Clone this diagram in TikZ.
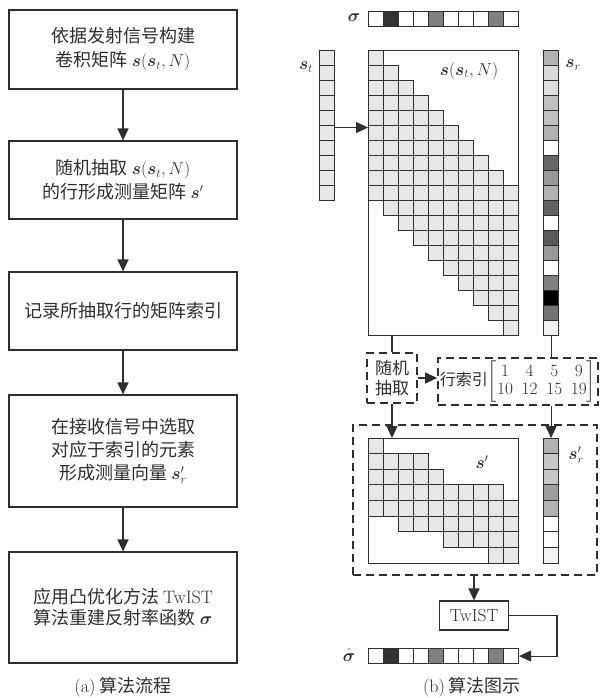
\documentclass[tikz,border=0pt]{standalone}
\usepackage{amsmath}
\usepackage{fontspec}
\newfontfamily\cjk{Noto Sans CJK SC}
\usetikzlibrary{arrows.meta}
\definecolor{ln}{gray}{0.18}
\tikzset{
  fbox/.style={draw=ln, line width=1.1pt, align=center, minimum width=228pt, inner sep=2pt, text=ln,
    font=\fontsize{18}{24}\selectfont\cjk},
  arr/.style={draw=ln, line width=1.1pt, -{Triangle[length=12pt,width=11pt]}},
  conn/.style={draw=ln, line width=1.1pt},
  dbox/.style={draw=ln, line width=1.8pt, dash pattern=on 8pt off 5pt, text=ln, inner sep=1pt},
  cell/.style={draw=ln, line width=0.8pt},
  frame/.style={draw=ln, line width=1.1pt, inner sep=0pt, anchor=north west},
  lab/.style={text=ln, font=\fontsize{18}{22}\selectfont, inner sep=0pt},
  captxt/.style={text=ln, font=\fontsize{18}{22}\selectfont\cjk, inner sep=0pt},
}
\colorlet{cf}{black!9}
\begin{document}
\begin{tikzpicture}[x=1pt,y=-1pt]
\useasboundingbox (0,0) rectangle (601,698);
% ---------------- (a) flowchart ----------------
\node[fbox, minimum height=79pt] (b1) at (123,49.5) {依据发射信号构建\\卷积矩阵 $\boldsymbol{s}(\boldsymbol{s}_t,N)$};
\node[fbox, minimum height=78pt] (b2) at (123,180) {随机抽取 $\boldsymbol{s}(\boldsymbol{s}_t,N)$\\的行形成测量矩阵 $\boldsymbol{s}'$};
\node[fbox, minimum height=78pt] (b3) at (123,311) {记录所抽取行的矩阵索引};
\node[fbox, minimum height=112pt, font=\fontsize{18}{23}\selectfont\cjk] (b4) at (123,451) {在接收信号中选取\\对应于索引的元素\\形成测量向量 $\boldsymbol{s}'_r$};
\node[fbox, minimum height=111pt, font=\fontsize{18}{21}\selectfont\cjk] (b5) at (123,607.5) {应用凸优化方法 {\rmfamily TwIST}\\算法重建反射率函数 $\boldsymbol{\sigma}$};
\draw[arr] (b1.south) -- (b2.north);
\draw[arr] (b2.south) -- (b3.north);
\draw[arr] (b3.south) -- (b4.north);
\draw[arr] (b4.south) -- (b5.north);
\node[captxt] (capa) at (123,687) {{\rmfamily (a)} 算法流程};
% ---------------- (b) illustration ----------------
% sigma bar
\node[lab] (sgl) at (354,18) {$\boldsymbol{\sigma}$};
\foreach \v [count=\k from 0] in {0,80,0,0,50,0,0,0,50,0}
  \draw[cell, fill=black!\v] ({368+15*\k},11) rectangle +(15,15);
\node[frame, minimum width=150pt, minimum height=15pt] (SG) at (368,11) {};
% s_t column
\node[lab] (stl) at (306,67) {$\boldsymbol{s}_t$};
\foreach \k in {0,...,9}
  \draw[cell, fill=cf] (319,{50+15*\k}) rectangle +(15,15);
\node[frame, minimum width=15pt, minimum height=150pt] (ST) at (319,50) {};
% main matrix
\foreach \j in {0,...,9}{
  \foreach \i in {0,...,9}{
    \pgfmathtruncatemacro\r{\i+\j}
    \draw[cell, fill=cf] ({368+15*\j},{50+15*\r}) rectangle +(15,15);
  }
}
\node[frame, minimum width=150pt, minimum height=285pt] (M) at (368,50) {};
\node[lab] (Ml) at (469,71) {$\boldsymbol{s}(\boldsymbol{s}_t,N)$};
\draw[arr] ([yshift=-2pt]ST.east) -- ([yshift=-2pt]ST.east -| M.west);
% s_r column
\node[lab] (srl) at (573,65) {$\boldsymbol{s}_r$};
\foreach \v [count=\k from 0] in {30,15,12,25,25,30,0,60,40,30,62,0,65,40,0,50,100,55,5}
  \draw[cell, fill=black!\v] (543,{50+15*\k}) rectangle +(15,15);
\node[frame, minimum width=15pt, minimum height=285pt] (SR) at (543,50) {};
% random selection box
\node[dbox, minimum width=50pt, minimum height=50pt, align=center, font=\fontsize{17}{20}\selectfont\cjk] (R) at (392,378) {随机\\抽取};
\draw[conn] (M.south -| R.north) -- (R.north);
% row index box
\node[dbox, minimum width=160pt, minimum height=47pt, inner sep=0pt, font=\fontsize{16}{18}\selectfont] (I) at (518,381.5)
  {{\cjk 行索引}$\setlength\arraycolsep{4.4pt}\left[\begin{matrix}1&4&5&9\\10&12&15&19\end{matrix}\right]$};
\draw[conn] (SR.south) -- (SR.south |- I.north);
\draw[arr] (R.east) -- (R.east -| I.west);
% big dashed box
\node[dbox, minimum width=244pt, minimum height=150pt] (B) at (475,500) {};
% s' matrix
\foreach \a/\b [count=\k from 0] in {0/0,0/3,0/4,0/8,0/9,2/9,5/9,8/9}{
  \foreach \j in {\a,...,\b}
    \draw[cell, fill=cf] ({368+15*\j},{438+15.625*\k}) rectangle +(15,15.625);
}
\node[frame, minimum width=150pt, minimum height=125pt] (SP) at (368,438) {};
\node[lab] (spl) at (482,462) {$\boldsymbol{s}'$};
% s_r' column
\foreach \v [count=\k from 0] in {30,22,22,38,30,0,0,5}
  \draw[cell, fill=black!\v] (543,{438+15.625*\k}) rectangle +(15,15.625);
\node[frame, minimum width=15pt, minimum height=125pt] (SRP) at (543,438) {};
\node[lab] (srpl) at (576,455) {$\boldsymbol{s}'_r$};
\draw[arr] (R.south) -- (R.south |- SP.north);
\draw[arr] (I.south -| SRP.north) -- (SRP.north);
% TwIST
\node[draw=ln, line width=1.1pt, minimum width=69pt, minimum height=29pt, inner sep=0pt, text=ln, font=\fontsize{17.5}{20}\selectfont] (T) at (474,615.5) {TwIST};
\draw[arr] (B.south -| T.north) -- (T.north);
% sigma hat bar
\node[lab] (shl) at (349,655) {$\hat{\boldsymbol{\sigma}}$};
\foreach \v [count=\k from 0] in {0,80,0,0,50,0,0,0,50,0}
  \draw[cell, fill=black!\v] ({368+15*\k},648) rectangle +(15,15);
\node[frame, minimum width=150pt, minimum height=15pt] (SH) at (368,648) {};
\coordinate (cT) at (557,615.5);
\draw[arr] (T.east) -- (cT) |- (SH.east);
\node[captxt] (capb) at (472,687) {{\rmfamily (b)} 算法图示};
\end{tikzpicture}
\end{document}
